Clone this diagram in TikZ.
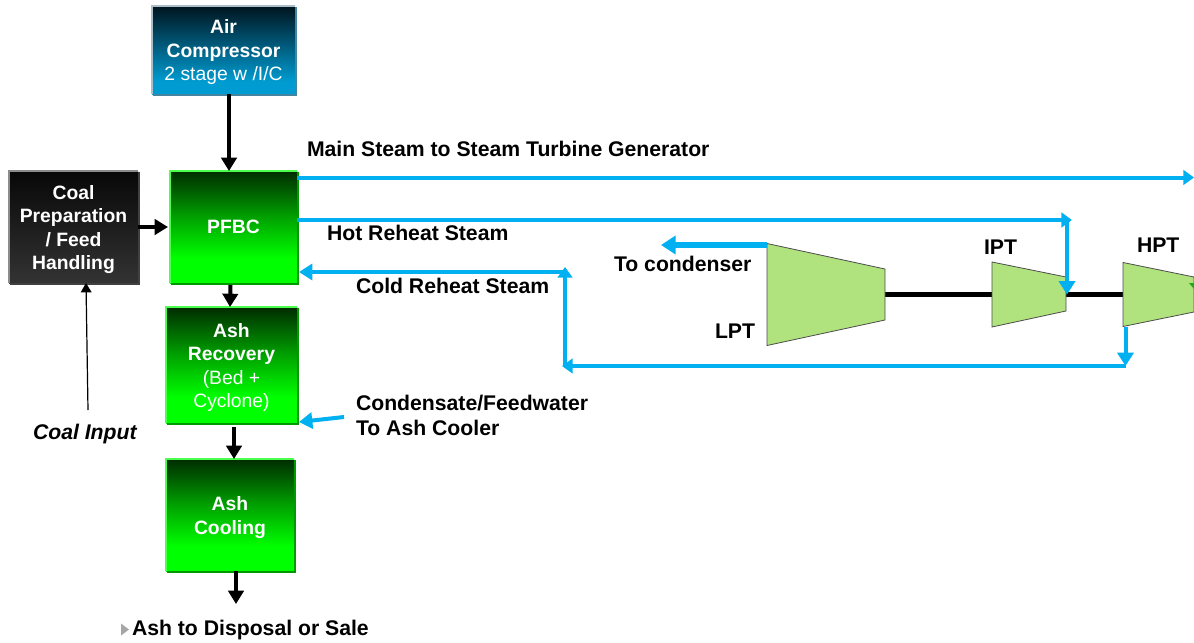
\documentclass[tikz,border=0pt]{standalone}
\usepackage{fontspec}
\setmainfont{Liberation Sans}
\usetikzlibrary{arrows.meta,calc}
\definecolor{steam}{HTML}{00B0F0}
\definecolor{turb}{HTML}{B0E27E}
\pgfdeclareverticalshading{greenshade}{100bp}{rgb(0bp)=(0,1,0);rgb(25bp)=(0,1,0);rgb(36bp)=(0,1,0);rgb(55bp)=(0,0.62,0);rgb(75bp)=(0,0.17,0);rgb(100bp)=(0,0.17,0)}
\pgfdeclareverticalshading{blueshade}{100bp}{rgb(0bp)=(0,0.61,0.82);rgb(25bp)=(0,0.61,0.82);rgb(32bp)=(0,0.61,0.82);rgb(75bp)=(0,0.08,0.12);rgb(100bp)=(0,0.08,0.12)}
\pgfdeclareverticalshading{coalshade}{100bp}{rgb(0bp)=(0.2,0.2,0.2);rgb(25bp)=(0.2,0.2,0.2);rgb(75bp)=(0.03,0.03,0.03);rgb(100bp)=(0.03,0.03,0.03)}
\newcommand{\dnstrut}{\rule{0pt}{14pt}}
\tikzset{
  unit/.style={draw=none,inner sep=0pt,outer sep=0pt,text=white,align=center,
    font=\fontsize{14.5}{17.6}\selectfont\bfseries},
  greenbox/.style={unit,shading=greenshade},
  bluebox/.style={unit,shading=blueshade},
  coalbox/.style={unit,shading=coalshade},
  lbl/.style={inner sep=0pt,outer sep=0pt,anchor=base west,text=black,
    font=\fontsize{15.9}{18}\selectfont\bfseries},
  blk/.style={draw=black,line width=3pt,-{Triangle[length=10pt,width=11.5pt]}},
  thinblk/.style={draw=black,line width=0.9pt,-{Triangle[length=7pt,width=8pt]}},
  stm/.style={draw=steam,line width=3pt,-{Triangle[length=8pt,width=11pt]}},
  stmlarge/.style={draw=steam,line width=3pt,-{Triangle[length=10pt,width=12pt]}},
  stmbig/.style={draw=steam,line width=4.5pt,-{Triangle[length=11pt,width=13.5pt]}},
  shaftline/.style={draw=black,line width=3.2pt},
  turbanchor/.style={inner sep=0pt,outer sep=0pt,draw=none},
  turbfill/.style={fill=turb,draw=black!70,line width=0.6pt}
}
\newcommand{\boxedge}[3]{%
  \draw[#2,line width=1.1pt] (#1.south west) -- (#1.north west) -- (#1.north east);
  \draw[#3,line width=1.3pt] ($(#1.north east)+(1,1)$) -- ($(#1.south east)+(1,1)$) -- ($(#1.south west)+(1,1)$);
}
\begin{document}
\begin{tikzpicture}[x=0.75pt,y=-0.75pt]
\useasboundingbox (0,0) rectangle (1194,642);

% process boxes
\node[bluebox,minimum width=107pt,minimum height=66pt] (air) at (223.5,50)
  {\dnstrut Air\\Compressor\\{\mdseries 2 stage w /I/C}};
\node[coalbox,minimum width=96.75pt,minimum height=84pt] (coal) at (73.5,227)
  {\dnstrut Coal\\Preparation\\/ Feed\\Handling};
\node[greenbox,minimum width=95.25pt,minimum height=84pt] (pfbc) at (233.5,227) {PFBC};
\node[greenbox,minimum width=98.25pt,minimum height=87pt] (rec) at (231.5,365)
  {\dnstrut Ash\\Recovery\\{\mdseries (Bed +}\\{\mdseries Cyclone)}};
\node[greenbox,minimum width=96pt,minimum height=84pt] (cool) at (230,515) {\dnstrut Ash\\Cooling};
\boxedge{air}{cyan!40!black!40!white}{cyan!60!black}
\boxedge{coal}{black!45}{black!75}
\boxedge{pfbc}{green!70!white}{green!60!black}
\boxedge{rec}{green!70!white}{green!60!black}
\boxedge{cool}{green!70!white}{green!60!black}

% turbine anchors
\node[turbanchor,minimum width=88.5pt,minimum height=76.5pt] (lpt) at (826,294.5) {};
\node[turbanchor,minimum width=55.5pt,minimum height=48.75pt] (ipt) at (1029,294.5) {};
\node[turbanchor,minimum width=53.25pt,minimum height=48pt] (hpt) at (1158.5,294.5) {};

% shaft
\draw[shaftline] (lpt.east) -- (ipt.west);
\draw[shaftline] (ipt.east) -- (hpt.west);

% turbines
\draw[turbfill] (lpt.north west) -- ($(lpt.east)+(0,-25.5)$) -- ($(lpt.east)+(0,25.5)$) -- (lpt.south west) -- cycle;
\draw[turbfill] (ipt.north west) -- ($(ipt.east)+(0,-17.5)$) -- ($(ipt.east)+(0,16.5)$) -- (ipt.south west) -- cycle;
\draw[turbfill] (hpt.north west) -- ($(hpt.east)+(0,-17.5)$) -- ($(hpt.east)+(0,17.5)$) -- (hpt.south west) -- cycle;
\fill[green!60!black!80!turb] (1189,283) -- (1194,283) -- (1194,289) -- cycle;

% free ends
\coordinate (mainend) at (1194,177.5);
\coordinate (hotcorner) at (1072,220);
\coordinate (hotdrop) at (1067,220);
\coordinate (coldcorner) at (565,272);
\coordinate (coldriser) at (565,366);
\coordinate (hpcorner) at (1125.5,366);
\coordinate (condend) at (661,245);
\coordinate (coalin) at (88,410);
\coordinate (ashout) at (236,604);
\coordinate (fwstart) at (344,417);

% black connectors
\draw[blk] ($(air.south)+(5.5,0)$) -- ($(pfbc.north)+(-4.5,0)$);
\draw[blk] (coal.east) -- ($(pfbc.west)+(-2,0)$);
\draw[blk] ($(pfbc.south)+(-3,2)$) -- ($(rec.north)+(-1.5,0)$);
\draw[blk] ($(rec.south)+(2.5,4)$) -- ($(cool.north)+(4,0)$);
\draw[blk] ($(cool.south)+(6,0)$) -- (ashout);
\draw[thinblk] (coalin) -- ($(coal.south)+(12.5,0)$);

% steam connectors
\draw[stm] ($(pfbc.north east)+(0,6.5)$) -- (mainend);
\draw[stm] ($(pfbc.east)+(0,-7)$) -- (hotcorner);
\draw[stmlarge] (hotdrop) -- ($(ipt.east)+(1,0)$);
\draw[stmlarge] (coldcorner) -- ($(pfbc.east)+(2,45)$);
\draw[stmlarge] ($(hpt.south west)+(2.5,0)$) -- (hpcorner);
\draw[stm] (hpcorner) -- ($(coldriser)+(-3,0)$);
\draw[stm] (coldriser) -- ($(coldcorner)+(0,-5)$);
\draw[stmlarge] (fwstart) -- ($(rec.south east)+(2,-1)$);
\draw[stmbig] (lpt.north west |- condend) -- (condend);

% labels
\node[lbl] (tmain) at (307,156) {Main Steam to Steam Turbine Generator};
\node[lbl] (thot) at (327,240.5) {Hot Reheat Steam};
\node[lbl] (tcold) at (356,293) {Cold Reheat Steam};
\node[lbl] (tcond) at (614,271.5) {To condenser};
\node[lbl] (tlpt) at (715,338) {LPT};
\node[lbl] (tipt) at (984,254) {IPT};
\node[lbl] (thpt) at (1137,252) {HPT};
\node[lbl] (tfw1) at (356,410) {Condensate/Feedwater};
\node[lbl] (tfw2) at (356,435) {To Ash Cooler};
\node[lbl,font=\fontsize{15.9}{18}\selectfont\bfseries\itshape] (tcoal) at (33,439) {Coal Input};
\node[lbl] (tash) at (132,635) {Ash to Disposal or Sale};
\fill[black!35] ($(tash.west)+(-11,-6)$) -- ($(tash.west)+(-3,0)$) -- ($(tash.west)+(-11,6)$) -- cycle;
\end{tikzpicture}
\end{document}
